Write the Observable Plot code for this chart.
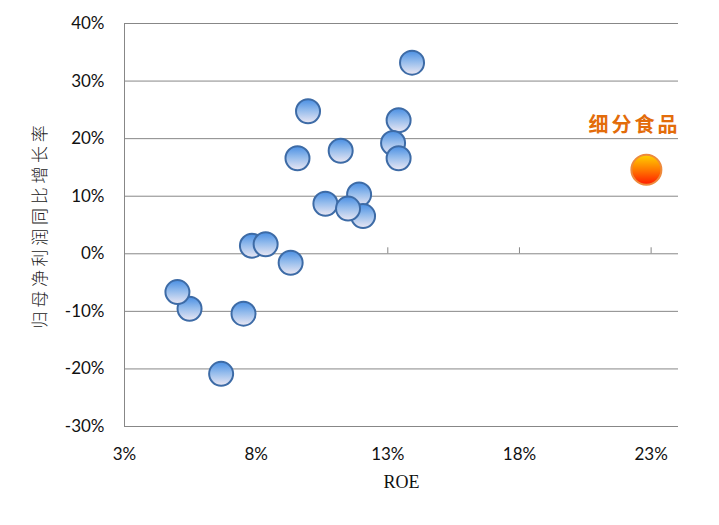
<!DOCTYPE html>
<html>
<head>
<meta charset="utf-8">
<script src="https://cdn.jsdelivr.net/npm/d3@7"></script>
<script src="https://cdn.jsdelivr.net/npm/@observablehq/plot@0.6"></script>
<style>
  html, body { margin: 0; padding: 0; background: #ffffff; }
  #chart svg { display: block; }
</style>
</head>
<body>
<div id="chart"></div>
<script>
// ROE (%) and net-profit growth (%) of peer industries
const roe    = [13.92, 9.97, 13.41, 9.57, 11.21, 13.2, 13.41, 11.91, 10.63, 12.06, 11.49, 7.84, 8.36, 9.31, 5.47, 5.01, 7.52, 6.67];
const growth = [33.2, 24.75, 23.2, 16.6, 17.9, 19.25, 16.6, 10.3, 8.7, 6.55, 7.85, 1.4, 1.65, -1.55, -9.55, -6.65, -10.4, -20.85];

// Highlighted industry
const highlightName   = ["细分食品"];
const highlightRoe    = [22.82];
const highlightGrowth = [14.6];

// Axis ticks / labels
const xTicks = [3, 8, 13, 18, 23];
const yTicks = [-30, -20, -10, 0, 10, 20, 30, 40];
const xTitle = "ROE";
const yTitle = "归母净利润同比增长率";

const peers = roe.map((r, i) => ({roe: r, growth: growth[i]}));
const highlight = highlightName.map((n, i) => ({name: n, roe: highlightRoe[i], growth: highlightGrowth[i]}));

const grid = "#878787";
const pct = d => d + "%";

const chart = Plot.plot({
  width: 719,
  height: 525,
  marginLeft: 124,
  marginRight: 41,
  marginTop: 23,
  marginBottom: 99,
  x: {domain: [3, 24.04]},
  y: {domain: [-30, 40]},
  style: {background: "#ffffff", color: "#111"},
  marks: [
    Plot.ruleY(yTicks, {stroke: grid, strokeWidth: 1}),
    Plot.ruleX([xTicks[0]], {stroke: grid, strokeWidth: 1}),
    Plot.ruleX(xTicks.slice(1), {x: d => d, y1: 0, y2: 0, insetTop: -6, stroke: grid, strokeWidth: 1}),
    Plot.axisY(yTicks, {tickSize: 0, tickPadding: 20, fontSize: 17, fontFamily: "Lato, sans-serif", tickFormat: pct, label: null, fill: "#111"}),
    Plot.axisX(xTicks, {anchor: "bottom", tickSize: 0, tickPadding: 21, fontSize: 17, fontFamily: "Lato, sans-serif", tickFormat: pct, label: null, fill: "#111"}),
    Plot.text([xTitle], {frameAnchor: "bottom", dy: 61, fontSize: 18, fontFamily: "Liberation Serif, serif", fill: "#111"}),
    Plot.text([yTitle], {frameAnchor: "left", textAnchor: "middle", dx: -84, rotate: -90, fontSize: 17, fontFamily: "Noto Sans CJK SC, sans-serif", fontWeight: 300, fill: "#222", className: "ytitle"}),
    Plot.dot(peers, {x: "roe", y: "growth", r: 12, fill: "url(#blueBall)", stroke: "#3d6ba6", strokeWidth: 2}),
    Plot.dot(highlight, {x: "roe", y: "growth", r: 15, fill: "url(#orangeBall)", stroke: "#ee8a3c", strokeWidth: 2}),
    Plot.text(highlight, {x: "roe", y: "growth", text: "name", dx: -12, dy: -44, fontSize: 20, fontWeight: 600, fontFamily: "Noto Sans CJK SC, sans-serif", fill: "#e36c0a", className: "hlabel"})
  ]
});

// letter spacing for the CJK titles
d3.select(chart).selectAll("text").each(function() {
  const t = this.textContent;
  if (t === yTitle) d3.select(this).attr("letter-spacing", "3.7px");
  if (t === highlightName[0]) d3.select(this).attr("letter-spacing", "3px");
});

const defs = d3.select(chart).insert("defs", ":first-child");
const blue = defs.append("linearGradient").attr("id", "blueBall").attr("x1", 0).attr("y1", 0).attr("x2", 0).attr("y2", 1);
blue.append("stop").attr("offset", "0%").attr("stop-color", "#4a8fe3");
blue.append("stop").attr("offset", "45%").attr("stop-color", "#93bbec");
blue.append("stop").attr("offset", "100%").attr("stop-color", "#ece8f3");
const orange = defs.append("linearGradient").attr("id", "orangeBall").attr("x1", 0).attr("y1", 0).attr("x2", 0).attr("y2", 1);
orange.append("stop").attr("offset", "0%").attr("stop-color", "#ffd200");
orange.append("stop").attr("offset", "50%").attr("stop-color", "#ff7a00");
orange.append("stop").attr("offset", "100%").attr("stop-color", "#ff1a00");

document.getElementById("chart").appendChild(chart);
</script>
</body>
</html>
